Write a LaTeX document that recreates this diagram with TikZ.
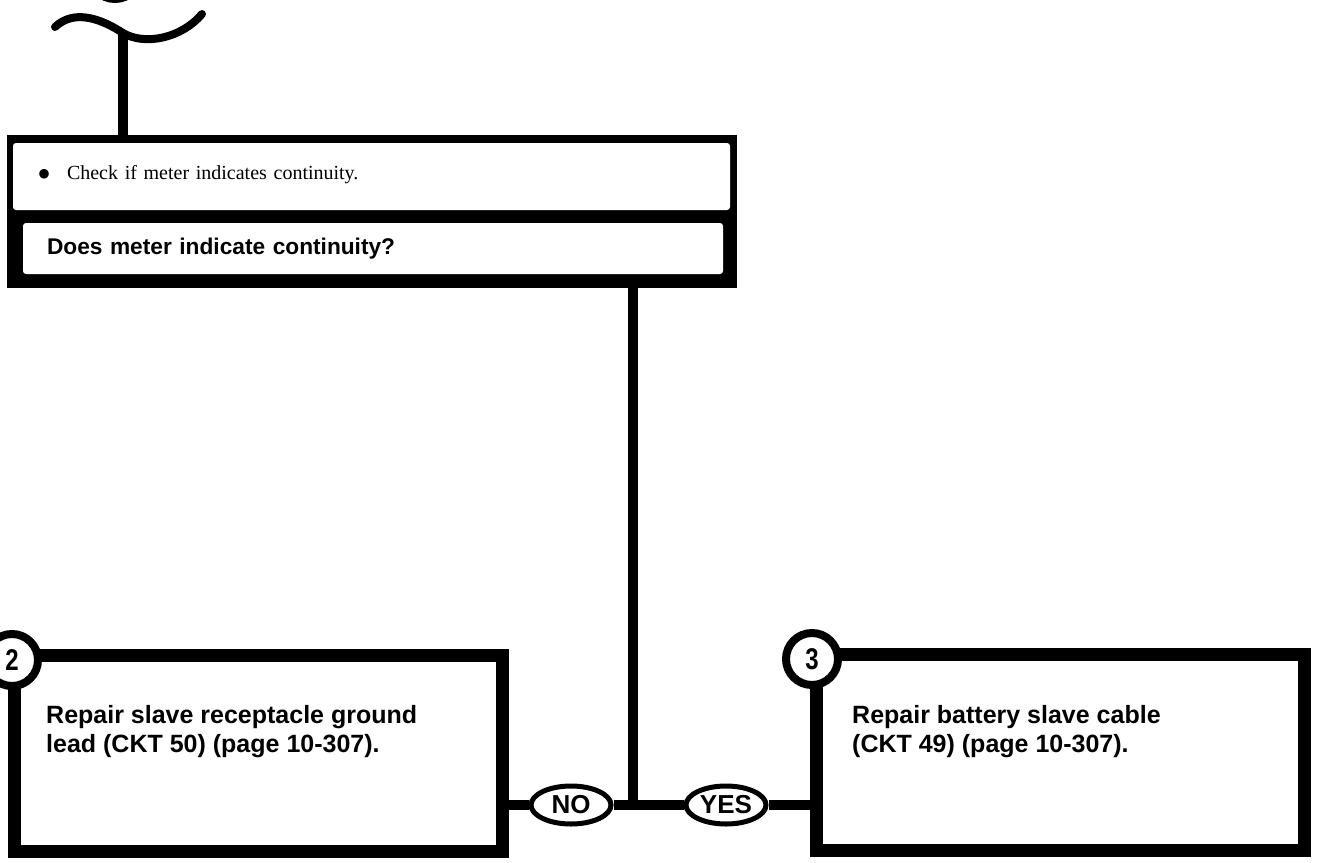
\documentclass[tikz,border=0pt]{standalone}
\usepackage{fontspec}
\setmainfont{Liberation Serif}
\setsansfont{Liberation Sans}
\newfontfamily\tagfont{Liberation Sans}[FakeStretch=0.8]
\usetikzlibrary{shapes.geometric}

\begin{document}
\begin{tikzpicture}[x=1pt,y=-1pt,
   wire/.style={line width=10pt},
   panel/.style={fill=white,rounded corners=3pt,inner ysep=0pt,align=left},
   fixbox/.style={draw,line width=13pt,minimum width=488pt,minimum height=196pt},
   fixtext/.style={anchor=north west,inner sep=0pt,align=left,font=\sffamily\bfseries\fontsize{25}{29}\selectfont},
   badge/.style={draw,circle,fill=white,line width=8pt,minimum size=52pt,inner sep=0pt,font=\tagfont\bfseries\fontsize{30}{30}\selectfont},
   answer/.style={draw,ellipse,fill=white,line width=5pt,minimum width=80pt,minimum height=38pt,inner sep=0pt,font=\sffamily\bfseries\fontsize{26}{26}\selectfont}]

   \useasboundingbox (0,0) rectangle (1319,862);
   \clip (0,0) rectangle (1319,862);

   % curl and stem coming in from above
   \draw[line width=8pt] (115,-27) circle (26pt);
   \coordinate (tip) at (123,33);
   \draw[line width=8pt,line cap=round] (55,27) .. controls (75,8) and (103,20) .. (tip) .. controls (145,46) and (182,38) .. (202,14);

   % question block
   \node[fill=black,inner sep=0pt,minimum width=730pt,minimum height=153pt] (frame) at (372,211.5) {};
   \node[panel,inner xsep=24pt,text width=669pt,minimum height=67pt,font=\fontsize{20}{24}\selectfont] (check) at (371.5,176.5)
      {\raisebox{-8pt}{\fontsize{40}{40}\selectfont\textbullet}\hspace{16pt}Check if meter indicates continuity.};
   \node[panel,inner xsep=24pt,text width=652pt,minimum height=51pt,font=\sffamily\bfseries\fontsize{22.7}{25}\selectfont] (ask) at (373,248.5)
      {Does meter indicate continuity?};

   % repair blocks
   \node[fixbox] (slave) at (258,753) {};
   \node[fixbox] (cable) at (1060,752) {};
   \node[fixtext] (slavetxt) at (46,705) {Repair slave receptacle ground\\lead (CKT 50) (page 10-307).};
   \node[fixtext] (cabletxt) at (852,705) {Repair battery slave cable\\(CKT 49) (page 10-307).};
   \node[badge] (n2) at (12,660) {2};
   \node[badge] (n3) at (812,659) {3};

   % branches
   \coordinate (jn) at (633,805);
   \node[answer] (no) at (571,805) {NO};
   \node[answer] (yes) at (726,805) {YES};
   \draw[wire] (tip) -- (tip |- frame.north);
   \draw[wire] (frame.south -| jn) -- (jn);
   \draw[wire] (slave.east |- no) -- (no.west);
   \draw[wire] (no.east) -- (jn) -- (yes.west);
   \draw[wire] (yes.east) -- (cable.west |- yes);
\end{tikzpicture}
\end{document}
